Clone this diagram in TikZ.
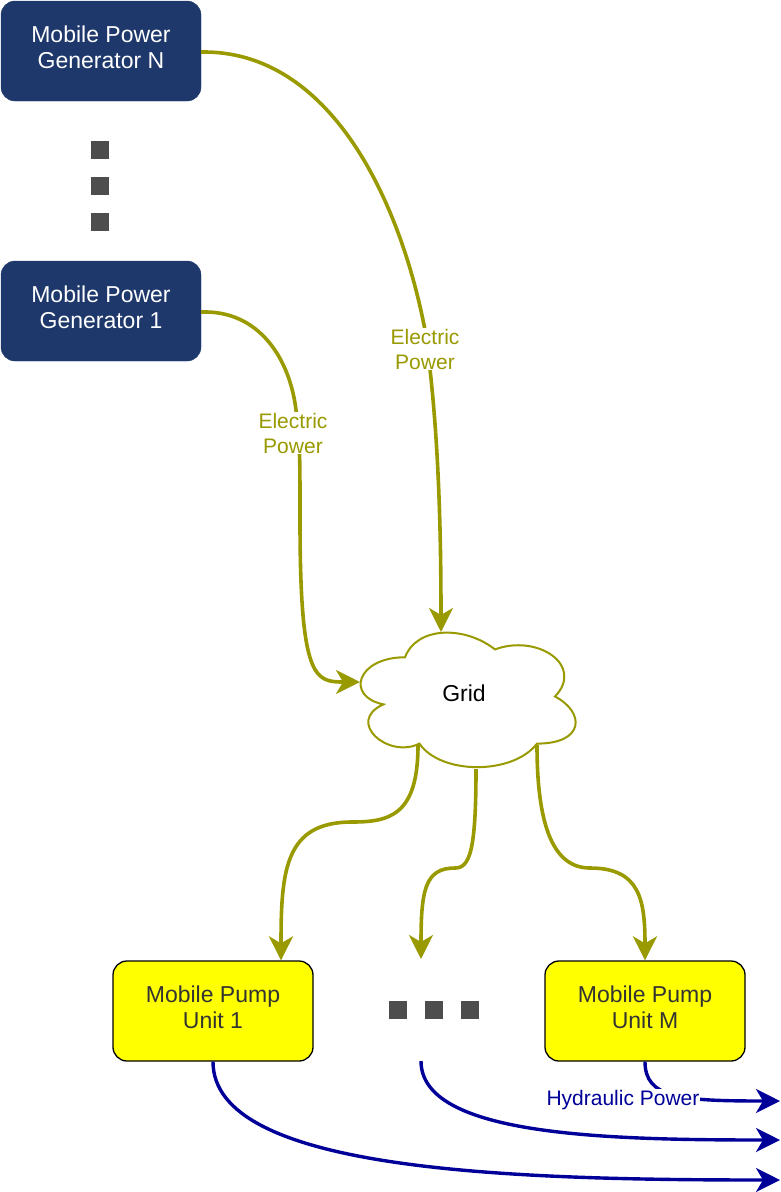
\documentclass[tikz,border=0pt]{standalone}
\usepackage{fontspec}
\setmainfont{Liberation Sans}
\usetikzlibrary{arrows.meta}
\definecolor{genblue}{HTML}{1E386C}
\definecolor{elecolive}{HTML}{999900}
\definecolor{hydblue}{HTML}{000099}
\definecolor{dotgray}{HTML}{4D4D4D}
\definecolor{pumptext}{HTML}{333333}
\definecolor{pumpyellow}{HTML}{FFFF00}
\begin{document}
\begin{tikzpicture}[x=1pt,y=-1pt,
  genbox/.style={rectangle, rounded corners=14pt, fill=genblue, draw=genblue, minimum width=200pt, minimum height=100pt, inner sep=0pt},
  gentext/.style={text=white, align=center, font=\fontsize{23}{26}\selectfont, inner sep=0pt},
  pumpbox/.style={rectangle, rounded corners=14pt, fill=pumpyellow, draw=black, line width=1.3pt, minimum width=200pt, minimum height=100pt, inner sep=0pt},
  pumptxt/.style={text=pumptext, align=center, font=\fontsize{23}{26}\selectfont, inner sep=0pt},
  dotsq/.style={rectangle, fill=dotgray, minimum size=18pt, inner sep=0pt},
  elec/.style={draw=elecolive, line width=3.6pt, -{Stealth[length=24pt,width=24pt,inset=7pt]}},
  hyd/.style={draw=hydblue, line width=3.4pt, -{Stealth[length=24pt,width=24pt,inset=7pt]}},
  elabel/.style={fill=white, text=elecolive, align=center, font=\fontsize{21}{25}\selectfont, inner sep=1pt},
  hlabel/.style={fill=white, text=hydblue, font=\fontsize{21}{25}\selectfont, inner sep=1pt},
]
\useasboundingbox (0,0) rectangle (780,1192);

% nodes
\node[genbox] (genN) at (101,51) {};
\node[gentext] (genNt) at (101,47.5) {Mobile Power\\Generator N};
\node[genbox] (gen1) at (101,311) {};
\node[gentext] (gen1t) at (101,307.5) {Mobile Power\\Generator 1};
\node[dotsq] (vd1) at (100,150) {};
\node[dotsq] (vd2) at (100,186) {};
\node[dotsq] (vd3) at (100,222) {};
\node[pumpbox] (pump1) at (213,1011) {};
\node[pumptxt] (pump1t) at (213,1007.5) {Mobile Pump\\Unit 1};
\node[pumpbox] (pumpM) at (645,1011) {};
\node[pumptxt] (pumpMt) at (645,1007.5) {Mobile Pump\\Unit M};
\node[dotsq] (hd1) at (398,1010) {};
\node[dotsq] (hd2) at (434,1010) {};
\node[dotsq] (hd3) at (470,1010) {};

% cloud
\begin{scope}[shift={(345,618)}, x={(240pt,0pt)}, y={(0pt,-157pt)}]
  \draw[draw=elecolive, fill=white, line width=2pt]
    (0.25,0.25) .. controls (0.05,0.25) and (0,0.5) .. (0.16,0.55)
    .. controls (0,0.66) and (0.18,0.9) .. (0.31,0.8)
    .. controls (0.4,1) and (0.7,1) .. (0.8,0.8)
    .. controls (1,0.8) and (1,0.6) .. (0.875,0.5)
    .. controls (1,0.3) and (0.8,0.1) .. (0.625,0.2)
    .. controls (0.5,0.05) and (0.3,0.05) .. (0.25,0.25) -- cycle;
\end{scope}
\node[font=\fontsize{23}{26}\selectfont] (grid) at (464,693) {Grid};
\coordinate (gridtop) at (441,632);
\coordinate (gridleft) at (360,682);
\coordinate (gridbl) at (418,745);
\coordinate (gridbm) at (476,769);
\coordinate (gridbr) at (537,745);
\coordinate (midin) at (421,959);
\coordinate (midout) at (421,1061);
\coordinate (out1) at (780,1180);
\coordinate (out2) at (780,1140);
\coordinate (out3) at (780,1101);

% electric edges
\draw[elec] ([yshift=-1pt]genN.east) .. controls (330,50) and (400,200) .. (425,330)
  .. controls (438,420) and (441,520) .. (gridtop);
\node[elabel] (lblN) at (425,349) {Electric\\Power};
\draw[elec] ([yshift=-1pt]gen1.east) .. controls (260,310) and (290,360) .. (296,410)
  .. controls (300,450) .. (300,520)
  .. controls (300,680) and (315,682) .. (gridleft);
\node[elabel] (lbl1) at (293,433) {Electric\\Power};

% grid to pumps
\draw[elec] (gridbl) .. controls (418,815) and (390,822) .. (352,822)
  .. controls (285,822) and (281,870) .. ([xshift=68pt]pump1.north);
\draw[elec] (gridbm) .. controls (476,850) and (470,868) .. (455,868)
  .. controls (425,868) and (421,890) .. (midin);
\draw[elec] (gridbr) .. controls (537,830) and (555,868) .. (590,868)
  .. controls (640,868) and (645,900) .. (pumpM.north);

% hydraulic edges
\draw[hyd] (pump1.south) .. controls (213,1170) and (500,1180) .. (out1);
\draw[hyd] (midout) .. controls (421,1135) and (600,1140) .. (out2);
\draw[hyd] (pumpM.south) .. controls (645,1098) and (680,1101) .. (out3);
\node[hlabel] (hlbl) at (623,1100) {Hydraulic Power};
\end{tikzpicture}
\end{document}
